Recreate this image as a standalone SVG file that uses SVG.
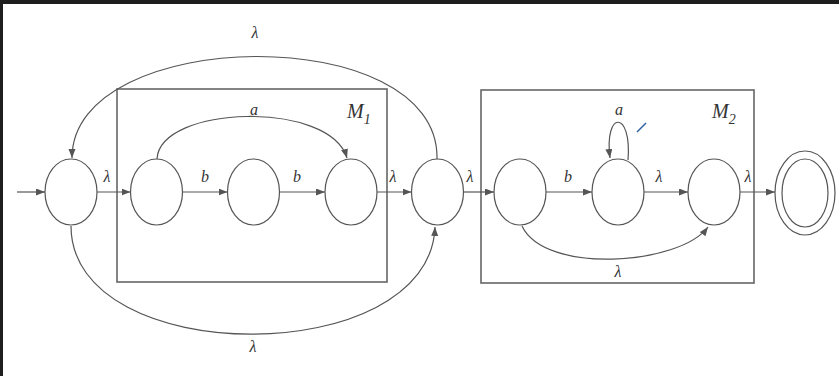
<svg xmlns="http://www.w3.org/2000/svg" width="839" height="376" viewBox="0 0 839 376">
<style>
.st{fill:#fff;stroke:#555;stroke-width:1.2}
.box{fill:none;stroke:#666;stroke-width:1.6}
.ed{fill:none;stroke:#555;stroke-width:1.2;marker-end:url(#ah)}
.lb{font-family:"Liberation Serif","DejaVu Serif",serif;font-style:italic;font-size:16px;fill:#333;text-anchor:middle}
.big{font-size:20px;text-anchor:start}
.sub{font-size:14px}
</style>
<defs>
<marker id="ah" markerUnits="userSpaceOnUse" markerWidth="10" markerHeight="8" refX="9" refY="3.5" orient="auto">
<path d="M0,0 L9,3.5 L0,7 Z" fill="#555"/>
</marker>
</defs>
<rect x="0" y="0" width="839" height="376" fill="#fff"/>
<rect x="0" y="0" width="839" height="4" fill="#1e1e1e"/>
<rect x="0" y="0" width="3" height="376" fill="#1e1e1e"/>
<g id="boxes">
<rect class="box" x="117" y="89" width="270" height="193"/>
<rect class="box" x="481" y="90" width="273" height="193"/>
</g>
<g id="connectors">
<path class="ed" d="M17,192 L45,192"/>
<path class="ed" d="M97,192 L130.5,192"/>
<path class="ed" d="M182.5,192 L227.5,192"/>
<path class="ed" d="M279.5,192 L325,192"/>
<path class="ed" d="M377,192 L411.5,192"/>
<path class="ed" d="M463.5,192 L494,192"/>
<path class="ed" d="M546,192 L592,192"/>
<path class="ed" d="M644,192 L688,192"/>
<path class="ed" d="M740,192 L775,192"/>
<path class="ed" d="M437,159 C440,20 72,25 72,158"/>
<path class="ed" d="M71,226 C71,370 430,370 435,227"/>
<path class="ed" d="M157,159 C160,105 330,100 347,158"/>
<path class="ed" d="M522,226 C545,275 680,265 708,227"/>
<path class="ed" d="M628,160 C632,110 604,110 610,158"/>
<line x1="637" y1="132" x2="646" y2="123" stroke="#2a5fa0" stroke-width="1.5"/>
</g>
<g id="n0"><ellipse class="st" cx="71" cy="192" rx="26" ry="33"/></g>
<g id="n1"><ellipse class="st" cx="156.5" cy="192" rx="26" ry="33"/></g>
<g id="n2"><ellipse class="st" cx="253.5" cy="192" rx="26" ry="33"/></g>
<g id="n3"><ellipse class="st" cx="351" cy="192" rx="26" ry="33"/></g>
<g id="n4"><ellipse class="st" cx="437.5" cy="192" rx="26" ry="33"/></g>
<g id="n5"><ellipse class="st" cx="520" cy="192" rx="26" ry="33"/></g>
<g id="n6"><ellipse class="st" cx="618" cy="192" rx="26" ry="33"/></g>
<g id="n7"><ellipse class="st" cx="714" cy="192" rx="26" ry="33"/></g>
<g id="n8"><ellipse class="st" cx="805" cy="193" rx="30" ry="42"/><ellipse class="st" cx="805" cy="193" rx="23" ry="34"/></g>
<g id="labels">
<text class="lb" x="255" y="38">λ</text>
<text class="lb" x="254" y="115">a</text>
<text class="lb big" x="347" y="118">M<tspan class="sub" dy="6">1</tspan></text>
<text class="lb" x="107" y="182">λ</text>
<text class="lb" x="205" y="182">b</text>
<text class="lb" x="297" y="182">b</text>
<text class="lb" x="393" y="182">λ</text>
<text class="lb" x="470" y="182">λ</text>
<text class="lb" x="568" y="182">b</text>
<text class="lb" x="619" y="115">a</text>
<text class="lb big" x="712" y="118">M<tspan class="sub" dy="6">2</tspan></text>
<text class="lb" x="659" y="182">λ</text>
<text class="lb" x="748" y="182">λ</text>
<text class="lb" x="618" y="277">λ</text>
<text class="lb" x="253" y="352">λ</text>
</g>
</svg>
